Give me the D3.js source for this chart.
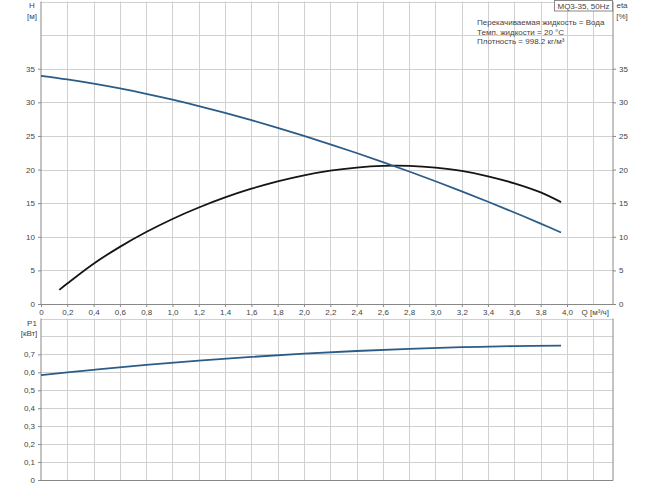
<!DOCTYPE html>
<html><head><meta charset="utf-8">
<script src="https://cdn.jsdelivr.net/npm/d3@7"></script>
<style>
html,body{margin:0;padding:0;background:#fff;}
svg{display:block;font-family:"Liberation Sans",Arial,sans-serif;}
</style></head>
<body>
<svg id="chart" width="650" height="486"></svg>
<script>
// ---- data ----
const qTicks = [0,0.2,0.4,0.6,0.8,1.0,1.2,1.4,1.6,1.8,2.0,2.2,2.4,2.6,2.8,3.0,3.2,3.4,3.6,3.8,4.0];
const hTicks = [0,5,10,15,20,25,30,35];
const pTicks = [0,0.1,0.2,0.3,0.4,0.5,0.6,0.7];

const qH = [0,0.2,0.4,0.6,0.8,1.0,1.2,1.4,1.6,1.8,2.0,2.2,2.4,2.6,2.8,3.0,3.2,3.4,3.6,3.8,3.955];
const hVals = [33.95,33.4,32.77,32.06,31.27,30.4,29.45,28.43,27.35,26.21,25.01,23.76,22.46,21.11,19.71,18.26,16.76,15.21,13.61,11.96,10.63];

const qEta = [0.139,0.2,0.4,0.6,0.8,1.0,1.2,1.4,1.6,1.8,2.0,2.2,2.4,2.6,2.8,3.0,3.2,3.4,3.6,3.8,3.955];
const etaVals = [2.1,3.05,6.0,8.5,10.7,12.65,14.35,15.85,17.15,18.25,19.15,19.85,20.3,20.55,20.55,20.3,19.8,19.0,17.95,16.6,15.15];

const qP = [0,0.4,0.8,1.2,1.6,2.0,2.4,2.8,3.2,3.6,3.955];
const pVals = [0.585,0.614,0.641,0.665,0.686,0.704,0.719,0.731,0.740,0.746,0.749];

const title = "MQ3-35, 50Hz";
const infoLines = ["Перекачиваемая жидкость = Вода","Темп. жидкости = 20 °C","Плотность = 998.2 кг/м³"];

// ---- layout ----
const svg = d3.select("#chart");
const L = 41, R = 613;
const x = d3.scaleLinear().domain([0,4.35]).range([L,R]);
const yH = d3.scaleLinear().domain([0,45]).range([304,1.5]);
const yP = d3.scaleLinear().domain([0,0.9]).range([480,318.5]);
const gridQ = d3.range(1,22).map(i=>i*0.2);
const gridC = "#d0d0d0", axisC = "#888", txtC = "#444";
const fmt = d => d3.format(".1f")(d).replace(".",",");

function panel(y, gridVals){
  const g = svg.append("g");
  g.selectAll(".vg").data(gridQ).join("line")
    .attr("x1",d=>Math.round(x(d))+0.5).attr("x2",d=>Math.round(x(d))+0.5)
    .attr("y1",y.range()[1]).attr("y2",y.range()[0])
    .attr("stroke",gridC).attr("stroke-width",1);
  g.selectAll(".hg").data(gridVals).join("line")
    .attr("x1",L).attr("x2",R)
    .attr("y1",d=>Math.round(y(d))+0.5).attr("y2",d=>Math.round(y(d))+0.5)
    .attr("stroke",gridC).attr("stroke-width",1);
  g.append("line").attr("x1",L).attr("x2",L).attr("y1",y.range()[1]).attr("y2",y.range()[0]+0.5).attr("stroke",axisC);
  g.append("line").attr("x1",R).attr("x2",R).attr("y1",y.range()[1]).attr("y2",y.range()[0]+0.5).attr("stroke",axisC);
  g.append("line").attr("x1",L).attr("x2",R).attr("y1",Math.round(y.range()[0])+0.5).attr("y2",Math.round(y.range()[0])+0.5).attr("stroke",axisC);
  return g;
}

panel(yH, [5,10,15,20,25,30,35,40,45]);
panel(yP, [0.1,0.2,0.3,0.4,0.5,0.6,0.7,0.8,0.9]);

const axL = svg.append("g").attr("transform",`translate(${L},0)`)
  .call(d3.axisLeft(yH).tickValues(hTicks).tickSize(3).tickPadding(3).tickFormat(d3.format("d")));
const axR = svg.append("g").attr("transform",`translate(${R},0)`)
  .call(d3.axisRight(yH).tickValues(hTicks).tickSize(3).tickPadding(3).tickFormat(d3.format("d")));
const axB = svg.append("g").attr("transform",`translate(0,304)`)
  .call(d3.axisBottom(x).tickValues(qTicks).tickSize(3).tickPadding(2).tickFormat(d=>d===0?"0":fmt(d)));
const axP = svg.append("g").attr("transform",`translate(${L},0)`)
  .call(d3.axisLeft(yP).tickValues(pTicks).tickSize(3).tickPadding(3).tickFormat(d=>d===0?"0":fmt(d)));

[axL,axR,axB,axP].forEach(a=>{
  a.select(".domain").remove();
  a.selectAll(".tick line").attr("stroke",axisC);
  a.selectAll("text").attr("fill",txtC).style("font-size","8px").style("font-family","'Liberation Sans',Arial,sans-serif");
});

const lab = (t,xx,yy,anchor)=>svg.append("text").attr("x",xx).attr("y",yy).attr("text-anchor",anchor||"middle")
  .attr("fill",txtC).style("font-size","8px").text(t);
lab("H",32,8);
lab("[м]",32,19);
lab("eta",622,8);
lab("[%]",622,19);
lab("Q [м³/ч]",x(4.2)+2,315);
lab("P1",32,326);
lab("[кВт]",29,336);

svg.append("rect").attr("x",554.5).attr("y",0.5).attr("width",58).attr("height",10.5)
  .attr("fill","#fff").attr("stroke",axisC);
lab(title,583.5,9);

infoLines.forEach((t,i)=>{
  svg.append("text").attr("x",477).attr("y",25+i*9.5).attr("fill",txtC).style("font-size","8px").text(t);
});

const mk = (xs,ys,yS)=>xs.map((q,i)=>[x(q),yS(ys[i])]);
const line = d3.line().curve(d3.curveCatmullRom.alpha(0.5));
svg.append("path").attr("d",line(mk(qEta,etaVals,yH))).attr("fill","none").attr("stroke","#151515").attr("stroke-width",1.8);
svg.append("path").attr("d",line(mk(qH,hVals,yH))).attr("fill","none").attr("stroke","#2b5c88").attr("stroke-width",1.8);
svg.append("path").attr("d",line(mk(qP,pVals,yP))).attr("fill","none").attr("stroke","#2b5c88").attr("stroke-width",1.8);
</script>
</body></html>
